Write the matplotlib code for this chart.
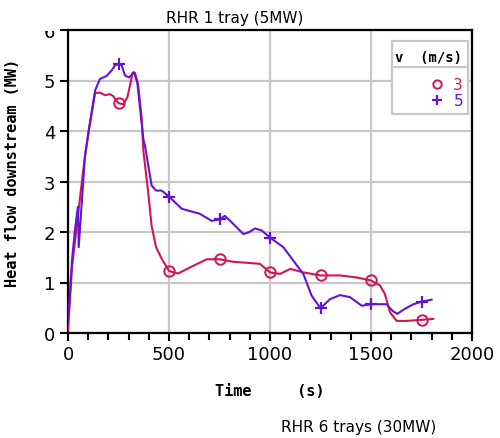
import matplotlib
matplotlib.use("Agg")
import matplotlib.pyplot as plt
from matplotlib.patches import Rectangle
from matplotlib.lines import Line2D
from matplotlib.ticker import MultipleLocator

# ---- data ----
t_v5 = [0, 20, 35, 49, 53, 84, 104, 134, 158, 191, 216, 233, 250, 266, 282, 302, 327, 343,
        373, 381, 414, 436, 464, 500, 563, 653, 711, 750, 777, 818, 868, 893, 926, 959,
        1000, 1066, 1116, 1165, 1206, 1250, 1297, 1347, 1396, 1454, 1500, 1577, 1606,
        1630, 1668, 1710, 1750, 1800]
q_v5 = [0.2, 1.45, 2.06, 2.5, 1.7, 3.5, 4.04, 4.8, 5.03, 5.09, 5.2, 5.3, 5.33, 5.3, 5.1,
        5.06, 5.16, 4.96, 3.84, 3.71, 2.92, 2.82, 2.82, 2.70, 2.46, 2.36, 2.22, 2.25, 2.32,
        2.16, 1.96, 1.99, 2.07, 2.03, 1.89, 1.70, 1.43, 1.17, 0.74, 0.49, 0.67, 0.75, 0.71,
        0.54, 0.57, 0.57, 0.44, 0.38, 0.48, 0.57, 0.62, 0.66]

t_v3 = [0, 20, 40, 60, 84, 104, 134, 158, 183, 208, 224, 250, 274, 294, 307, 320, 332,
        348, 365, 373, 398, 414, 436, 464, 500, 530, 546, 620, 687, 750, 818, 885, 950,
        1000, 1050, 1100, 1165, 1250, 1347, 1429, 1500, 1545, 1569, 1594, 1627, 1677,
        1750, 1808]
q_v3 = [0.05, 1.3, 2.0, 2.7, 3.5, 4.04, 4.75, 4.76, 4.71, 4.73, 4.69, 4.55, 4.53, 4.67,
        4.9, 5.16, 5.15, 4.9, 4.24, 3.61, 2.75, 2.12, 1.70, 1.47, 1.23, 1.19, 1.18, 1.33,
        1.46, 1.46, 1.41, 1.39, 1.37, 1.20, 1.17, 1.27, 1.20, 1.14, 1.14, 1.10, 1.04, 0.94,
        0.77, 0.41, 0.24, 0.24, 0.26, 0.28]

marker_t = [250, 500, 750, 1000, 1250, 1500, 1750]
marker_v3 = [4.55, 1.23, 1.46, 1.20, 1.14, 1.04, 0.26]
marker_v5 = [5.33, 2.70, 2.25, 1.89, 0.49, 0.57, 0.62]

x_ticks = [0, 500, 1000, 1500, 2000]
y_ticks = [0, 1, 2, 3, 4, 5, 6]

RED = "#d0145a"
PURPLE = "#6414d4"
GRID = "#c8c8c8"

fig = plt.figure(figsize=(5.0, 4.39), dpi=100)
ax = fig.add_axes([68/500, 1-334/439, 404/500, 303/439])

ax.plot(t_v3, q_v3, color=RED, lw=1.5, zorder=3)
ax.plot(t_v5, q_v5, color=PURPLE, lw=1.5, zorder=4)
ax.plot(marker_t, marker_v3, ls="none", marker="o", ms=7.5, mfc="none", mec=RED, mew=1.4, zorder=5)
ax.plot(marker_t, marker_v5, ls="none", marker="+", ms=9, mec=PURPLE, mew=1.6, zorder=6)

ax.set_xlim(0, 2000)
ax.set_ylim(0, 6)
ax.set_xticks(x_ticks)
ax.set_yticks(y_ticks)
ax.xaxis.set_minor_locator(MultipleLocator(100))
ax.grid(True, which="major", color=GRID, lw=1.6, zorder=0)
ax.set_axisbelow(True)
for s in ax.spines.values():
    s.set_linewidth(1.6)
    s.set_color("black")
ax.tick_params(which="major", direction="out", length=6, width=1.5, labelsize=13, pad=3)
ax.tick_params(which="minor", direction="out", length=5, width=1.5)
ax.tick_params(axis="y", which="minor", left=False)

ax.set_xlabel("Time     (s)", family="DejaVu Sans Mono", fontweight="bold", fontsize=11, labelpad=14)
ax.set_ylabel("Heat flow downstream (MW)", family="DejaVu Sans Mono", fontweight="bold", fontsize=11)
ax.yaxis.set_label_coords((20-68)/404, (334-173)/303)

fig.text(235/500, 1-18/439, "RHR 1 tray (5MW)", ha="center", va="center", fontsize=11)
fig.text(359/500, 1-428/439, "RHR 6 trays (30MW)", ha="center", va="center", fontsize=11)

# legend box
def ax_xy(px, py):
    return ((px-68)/404, (334-py)/303)

x0, y0 = ax_xy(392, 115)
x1, y1 = ax_xy(468, 42)
ax.add_patch(Rectangle((x0, y0), x1-x0, y1-y0, transform=ax.transAxes, fc="white",
                       ec=GRID, lw=1.6, zorder=10, clip_on=False))
sx0, sy = ax_xy(392, 68)
ax.add_line(Line2D([x0, x1], [sy, sy], transform=ax.transAxes, color=GRID, lw=1.6, zorder=11, clip_on=False))
hx, hy = ax_xy(428, 58)
ax.text(hx, hy, "v  (m/s)", transform=ax.transAxes, ha="center", va="center",
        family="DejaVu Sans Mono", fontweight="bold", fontsize=10, zorder=12)
mx, my3 = ax_xy(437, 85)
_, my5 = ax_xy(437, 101)
ax.plot([mx], [my3], transform=ax.transAxes, marker="o", ms=6, mfc="none", mec=RED, mew=1.4, clip_on=False, zorder=12)
ax.plot([mx], [my5], transform=ax.transAxes, marker="+", ms=7, mec=PURPLE, mew=1.6, clip_on=False, zorder=12)
lx, _ = ax_xy(463, 0)
ax.text(lx, my3, "3", transform=ax.transAxes, ha="right", va="center", color=RED, fontsize=11, zorder=12)
ax.text(lx, my5, "5", transform=ax.transAxes, ha="right", va="center", color=PURPLE, fontsize=11, zorder=12)

# top of the "6" label is hidden in the reference
ax.add_patch(Rectangle((30/500, 1-32/439), 30/500, 32/439, transform=fig.transFigure,
                       fc="white", ec="none", zorder=20, clip_on=False))

fig.savefig("out.png", dpi=100)
